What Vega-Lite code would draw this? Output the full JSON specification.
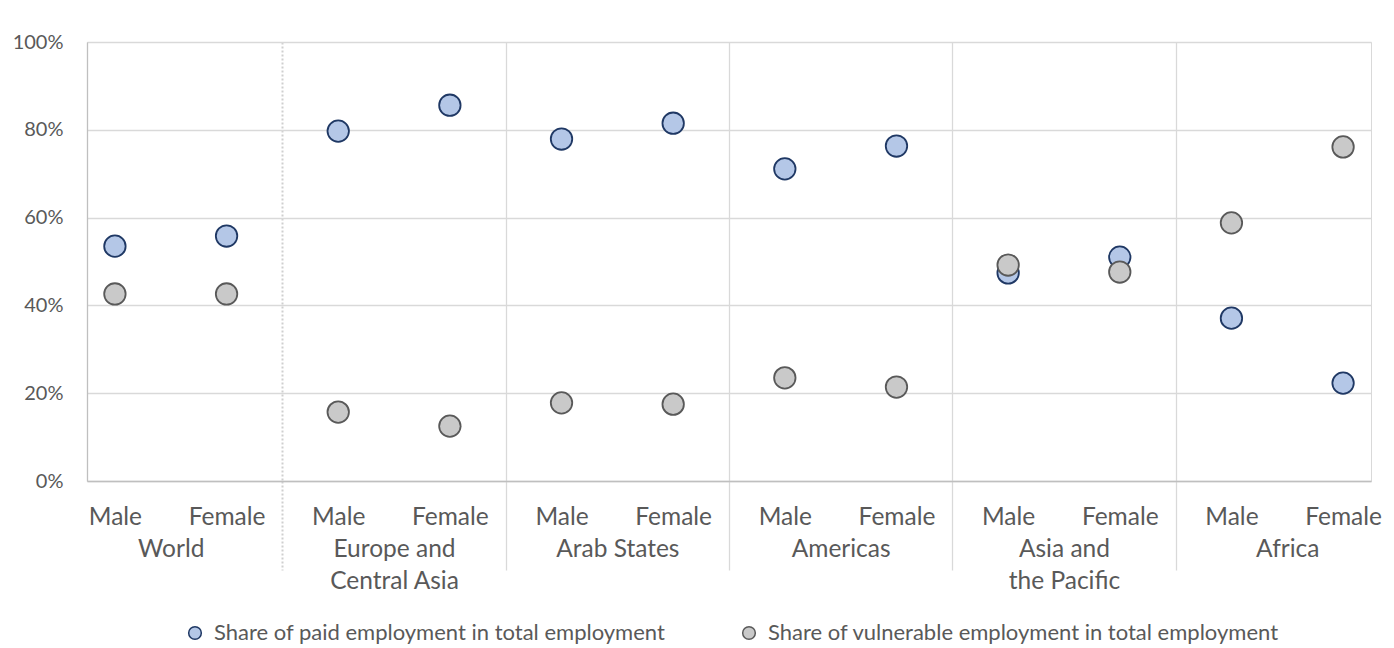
{
  "$schema": "https://vega.github.io/schema/vega-lite/v6.json",
  "width": 1284,
  "height": 439,
  "padding": {"left": 12, "top": 32, "right": 0, "bottom": 0},
  "background": "white",
  "config": {"view": {"stroke": "#d9d9d9", "strokeWidth": 1}},
  "data": {
    "values": [
      {"region": "World", "sex": "Male", "idx": 1, "series": "Share of paid employment in total employment", "value": 53.5},
      {"region": "World", "sex": "Female", "idx": 2, "series": "Share of paid employment in total employment", "value": 55.8},
      {"region": "Europe and Central Asia", "sex": "Male", "idx": 3, "series": "Share of paid employment in total employment", "value": 79.7},
      {"region": "Europe and Central Asia", "sex": "Female", "idx": 4, "series": "Share of paid employment in total employment", "value": 85.6},
      {"region": "Arab States", "sex": "Male", "idx": 5, "series": "Share of paid employment in total employment", "value": 77.9},
      {"region": "Arab States", "sex": "Female", "idx": 6, "series": "Share of paid employment in total employment", "value": 81.5},
      {"region": "Americas", "sex": "Male", "idx": 7, "series": "Share of paid employment in total employment", "value": 71.1},
      {"region": "Americas", "sex": "Female", "idx": 8, "series": "Share of paid employment in total employment", "value": 76.3},
      {"region": "Asia and the Pacific", "sex": "Male", "idx": 9, "series": "Share of paid employment in total employment", "value": 47.4},
      {"region": "Asia and the Pacific", "sex": "Female", "idx": 10, "series": "Share of paid employment in total employment", "value": 51.0},
      {"region": "Africa", "sex": "Male", "idx": 11, "series": "Share of paid employment in total employment", "value": 37.1},
      {"region": "Africa", "sex": "Female", "idx": 12, "series": "Share of paid employment in total employment", "value": 22.3},
      {"region": "World", "sex": "Male", "idx": 1, "series": "Share of vulnerable employment in total employment", "value": 42.6},
      {"region": "World", "sex": "Female", "idx": 2, "series": "Share of vulnerable employment in total employment", "value": 42.6},
      {"region": "Europe and Central Asia", "sex": "Male", "idx": 3, "series": "Share of vulnerable employment in total employment", "value": 15.7},
      {"region": "Europe and Central Asia", "sex": "Female", "idx": 4, "series": "Share of vulnerable employment in total employment", "value": 12.5},
      {"region": "Arab States", "sex": "Male", "idx": 5, "series": "Share of vulnerable employment in total employment", "value": 17.8},
      {"region": "Arab States", "sex": "Female", "idx": 6, "series": "Share of vulnerable employment in total employment", "value": 17.5},
      {"region": "Americas", "sex": "Male", "idx": 7, "series": "Share of vulnerable employment in total employment", "value": 23.5},
      {"region": "Americas", "sex": "Female", "idx": 8, "series": "Share of vulnerable employment in total employment", "value": 21.4},
      {"region": "Asia and the Pacific", "sex": "Male", "idx": 9, "series": "Share of vulnerable employment in total employment", "value": 49.2},
      {"region": "Asia and the Pacific", "sex": "Female", "idx": 10, "series": "Share of vulnerable employment in total employment", "value": 47.6},
      {"region": "Africa", "sex": "Male", "idx": 11, "series": "Share of vulnerable employment in total employment", "value": 58.8},
      {"region": "Africa", "sex": "Female", "idx": 12, "series": "Share of vulnerable employment in total employment", "value": 76.1}
    ]
  },
  "mark": {"type": "circle", "size": 460, "strokeWidth": 1.8, "opacity": 1},
  "encoding": {
    "x": {
      "field": "idx",
      "type": "quantitative",
      "scale": {"domain": [0.75, 12.25], "nice": false, "zero": false},
      "axis": {
        "title": null,
        "values": [1, 1.5, 2, 2.5, 3, 3.5, 4, 4.5, 5, 5.5, 6, 6.5, 7, 7.5, 8, 8.5, 9, 9.5, 10, 10.5, 11, 11.5, 12],
        "grid": true,
        "gridColor": {"condition": {"test": "datum.value == 2.5", "value": "#cfcfcf"}, "value": "#d9d9d9"},
        "gridWidth": {"condition": {"test": "datum.value == 2.5", "value": 2}, "value": 1.3},
        "gridOpacity": {"condition": {"test": "datum.value % 2 == 0.5", "value": 1}, "value": 0},
        "gridDash": {"condition": {"test": "datum.value == 2.5", "value": [2, 2]}, "value": [1, 0]},
        "ticks": true,
        "tickSize": 89,
        "tickColor": {"condition": {"test": "datum.value == 2.5", "value": "#cfcfcf"}, "value": "#d9d9d9"},
        "tickWidth": {"condition": {"test": "datum.value == 2.5", "value": 2}, "value": 1.3},
        "tickOpacity": {"condition": {"test": "datum.value % 2 == 0.5", "value": 1}, "value": 0},
        "tickDash": {"condition": {"test": "datum.value == 2.5", "value": [2, 2]}, "value": [1, 0]},
        "domainColor": "#bfbfbf",
        "domainWidth": 1.3,
        "labelExpr": "datum.value % 1 == 0 ? (datum.value % 2 == 1 ? 'Male' : 'Female') : datum.value == 1.5 ? ['', 'World'] : datum.value == 3.5 ? ['', 'Europe and', 'Central Asia'] : datum.value == 5.5 ? ['', 'Arab States'] : datum.value == 7.5 ? ['', 'Americas'] : datum.value == 9.5 ? ['', 'Asia and', 'the Pacific'] : datum.value == 11.5 ? ['', 'Africa'] : ''",
        "labelFont": "Lato",
        "labelFontSize": 24.5,
        "labelColor": "#595959",
        "labelPadding": -65,
        "labelLineHeight": 32,
        "labelOverlap": false,
        "labelFlush": false,
        "labelBound": false
      }
    },
    "y": {
      "field": "value",
      "type": "quantitative",
      "scale": {"domain": [0, 100], "nice": false},
      "axis": {
        "title": null,
        "values": [0, 20, 40, 60, 80, 100],
        "labelExpr": "datum.value + '%'",
        "grid": true,
        "gridColor": "#d9d9d9",
        "gridWidth": 1.3,
        "ticks": false,
        "domainColor": "#bfbfbf",
        "domainWidth": 1.3,
        "labelFont": "Lato",
        "labelFontSize": 20,
        "labelColor": "#595959",
        "labelPadding": 24
      }
    },
    "fill": {
      "field": "series",
      "type": "nominal",
      "scale": {
        "domain": ["Share of paid employment in total employment", "Share of vulnerable employment in total employment"],
        "range": ["#b4c7e7", "#c9c9c9"]
      },
      "legend": {
        "title": null,
        "orient": "none",
        "legendX": 97,
        "legendY": 580,
        "direction": "horizontal",
        "symbolType": "circle",
        "symbolSize": 160,
        "symbolStrokeWidth": 1.5,
        "labelFont": "Lato",
        "labelFontSize": 22,
        "labelColor": "#595959",
        "labelLimit": 1000,
        "labelOffset": 8,
        "columnPadding": 72,
        "padding": 0
      }
    },
    "stroke": {
      "field": "series",
      "type": "nominal",
      "scale": {
        "domain": ["Share of paid employment in total employment", "Share of vulnerable employment in total employment"],
        "range": ["#1f3864", "#595959"]
      }
    }
  }
}
